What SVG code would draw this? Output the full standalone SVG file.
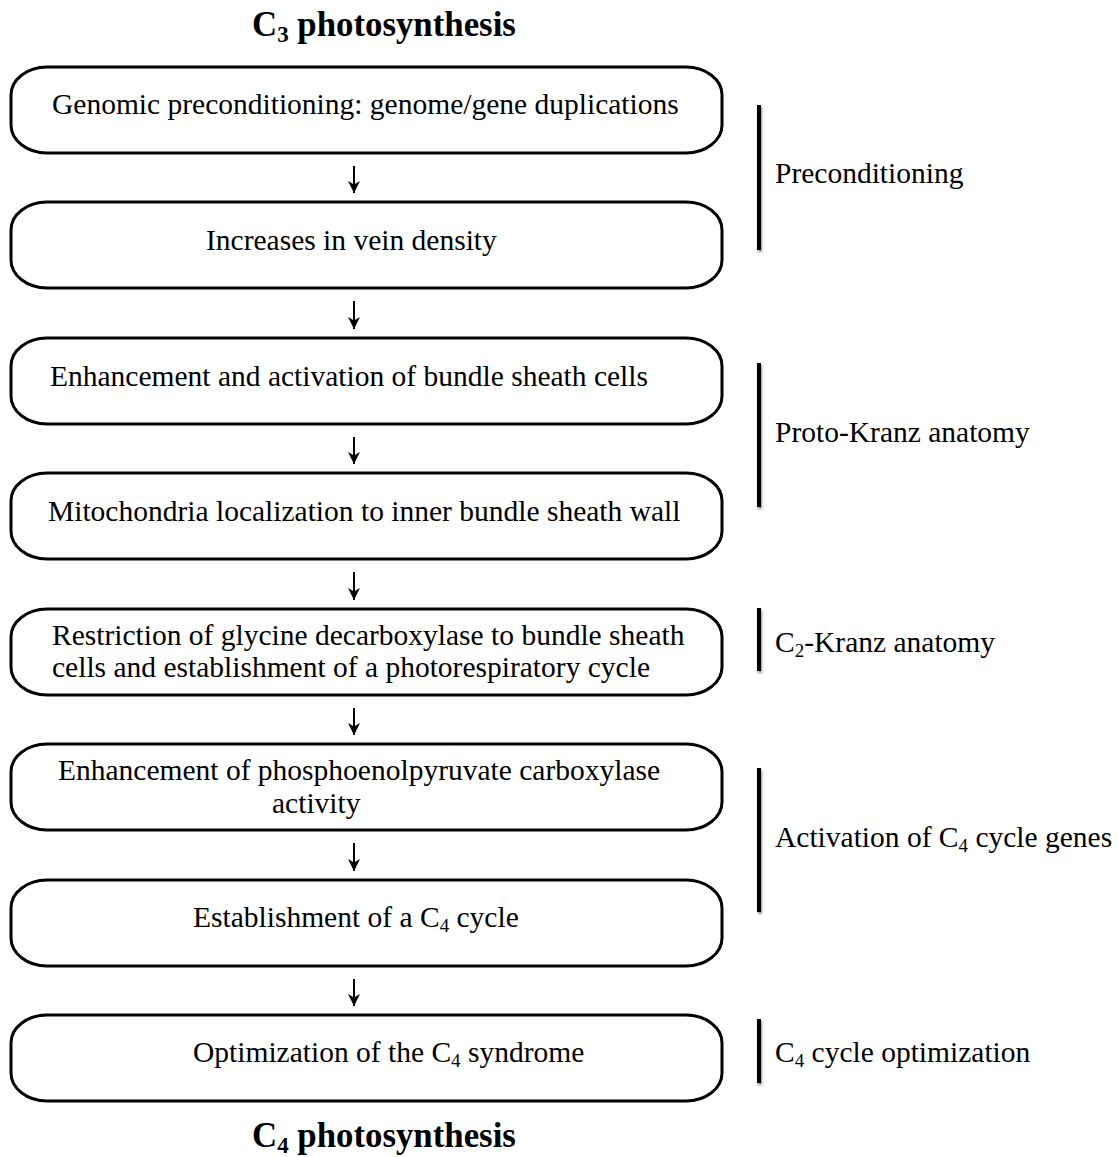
<svg xmlns="http://www.w3.org/2000/svg" width="1119" height="1157" viewBox="0 0 1119 1157">
<style>
.box{fill:#fff;stroke:#000;stroke-width:3}
.t{font-family:"Liberation Serif","Times New Roman",serif;font-size:29.5px;fill:#000}
.title{font-family:"Liberation Serif","Times New Roman",serif;font-size:34.8px;font-weight:bold;fill:#000}
.sub{font-size:19px}
.tsub{font-size:23px}
.bar{fill:#000;filter:url(#sh)}
.arr{stroke:#000;stroke-width:2;fill:none}
</style>
<defs>
<marker id="ah" markerWidth="12" markerHeight="12" refX="10" refY="5" orient="auto" markerUnits="userSpaceOnUse" viewBox="0 0 10 10">
<path d="M0,0 L10,5 L0,10 L3,5 Z" fill="#000"/>
</marker>
<filter id="sh" x="-100%" y="-10%" width="300%" height="125%">
<feDropShadow dx="1" dy="2" stdDeviation="1.2" flood-color="#000" flood-opacity="0.45"/>
</filter>
</defs>
<rect width="1119" height="1157" fill="#fff"/>
<text class="title" x="252" y="36">C<tspan class="tsub" dy="6">3</tspan><tspan dy="-6"> photosynthesis</tspan></text>
<text class="title" x="252" y="1147">C<tspan class="tsub" dy="6">4</tspan><tspan dy="-6"> photosynthesis</tspan></text>

<g id="connectors">
<line class="arr" x1="354" y1="166" x2="354" y2="193" marker-end="url(#ah)"/>
<line class="arr" x1="354" y1="301" x2="354" y2="329" marker-end="url(#ah)"/>
<line class="arr" x1="354" y1="437" x2="354" y2="464" marker-end="url(#ah)"/>
<line class="arr" x1="354" y1="572" x2="354" y2="600" marker-end="url(#ah)"/>
<line class="arr" x1="354" y1="708" x2="354" y2="735" marker-end="url(#ah)"/>
<line class="arr" x1="354" y1="843" x2="354" y2="871" marker-end="url(#ah)"/>
<line class="arr" x1="354" y1="979" x2="354" y2="1006" marker-end="url(#ah)"/>
</g>

<g id="n1"><rect class="box" x="11" y="67" width="711" height="86" rx="36" ry="28"/>
<text class="t" x="52" y="114">Genomic preconditioning: genome/gene duplications</text></g>
<g id="n2"><rect class="box" x="11" y="202" width="711" height="86" rx="36" ry="28"/>
<text class="t" x="206" y="250">Increases in vein density</text></g>
<g id="n3"><rect class="box" x="11" y="338" width="711" height="86" rx="36" ry="28"/>
<text class="t" x="50" y="386">Enhancement and activation of bundle sheath cells</text></g>
<g id="n4"><rect class="box" x="11" y="473" width="711" height="86" rx="36" ry="28"/>
<text class="t" x="48" y="521">Mitochondria localization to inner bundle sheath wall</text></g>
<g id="n5"><rect class="box" x="11" y="609" width="711" height="86" rx="36" ry="28"/>
<text class="t" x="52" y="645">Restriction of glycine decarboxylase to bundle sheath</text>
<text class="t" x="52" y="677">cells and establishment of a photorespiratory cycle</text></g>
<g id="n6"><rect class="box" x="11" y="744" width="711" height="86" rx="36" ry="28"/>
<text class="t" x="58" y="780">Enhancement of phosphoenolpyruvate carboxylase</text>
<text class="t" x="272" y="813">activity</text></g>
<g id="n7"><rect class="box" x="11" y="880" width="711" height="86" rx="36" ry="28"/>
<text class="t" x="193" y="927">Establishment of a C<tspan class="sub" dy="5">4</tspan><tspan dy="-5"> cycle</tspan></text></g>
<g id="n8"><rect class="box" x="11" y="1015" width="711" height="86" rx="36" ry="28"/>
<text class="t" x="193" y="1062">Optimization of the C<tspan class="sub" dy="5">4</tspan><tspan dy="-5"> syndrome</tspan></text></g>

<g id="phases">
<rect class="bar" x="757" y="105" width="4" height="145"/>
<text class="t" x="775" y="183">Preconditioning</text>
<rect class="bar" x="757" y="363" width="4" height="144"/>
<text class="t" x="775" y="442">Proto-Kranz anatomy</text>
<rect class="bar" x="757" y="608" width="4" height="63"/>
<text class="t" x="775" y="652">C<tspan class="sub" dy="5">2</tspan><tspan dy="-5">-Kranz anatomy</tspan></text>
<rect class="bar" x="757" y="768" width="4" height="144"/>
<text class="t" x="775" y="847">Activation of C<tspan class="sub" dy="5">4</tspan><tspan dy="-5"> cycle genes</tspan></text>
<rect class="bar" x="757" y="1019" width="4" height="64"/>
<text class="t" x="775" y="1062">C<tspan class="sub" dy="5">4</tspan><tspan dy="-5"> cycle optimization</tspan></text>
</g>
</svg>
